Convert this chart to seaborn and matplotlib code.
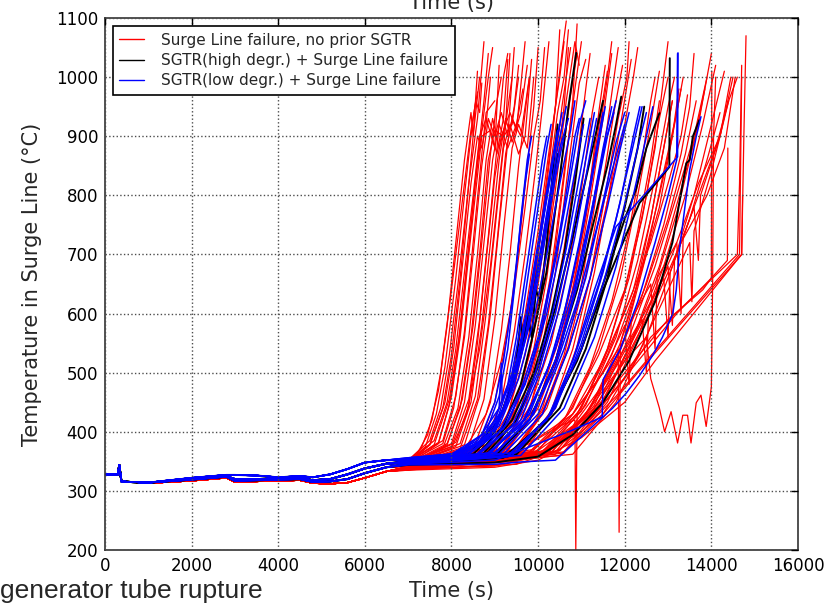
import matplotlib
matplotlib.use("Agg")
import matplotlib.pyplot as plt
from matplotlib.lines import Line2D
import pandas as pd
import seaborn as sns

# shared early transient (time s, temperature degC), four bands of the bundle
early_time = [0, 300, 330, 380, 600, 1000, 2000, 2800, 3000, 3500, 4000, 4500, 4800, 5200, 5600, 6000, 6500]
early_p1 = [328, 328, 344, 316, 315, 314, 322, 327, 327, 326, 323, 325, 323, 328, 337, 348, 352]
early_p2 = [328, 328, 344, 316, 315, 314, 320, 325, 320, 320, 321, 322, 318, 320, 328, 338, 346]
early_p3 = [328, 328, 344, 316, 315, 314, 319, 324, 317, 318, 319, 320, 315, 316, 320, 330, 340]
early_p4 = [328, 328, 344, 316, 315, 313, 317, 322, 315, 316, 317, 318, 313, 312, 314, 322, 333]

# late heat-up of each run (time s, temperature degC)
red_runs = [
    [(7000, 350), (7300, 372), (7550, 420), (7750, 500), (8000, 640), (8250, 790), (8450, 910), (8600, 975)],
    [(7000, 348), (7400, 375), (7650, 430), (7850, 510), (8100, 660), (8300, 800), (8480, 920), (8560, 960), (8650, 940), (8700, 990)],
    [(7000, 352), (7500, 385), (7750, 440), (7950, 530), (8150, 650), (8400, 820), (8600, 930), (8750, 1060)],
    [(7000, 346), (7500, 378), (7850, 450), (8050, 540), (8250, 680), (8450, 820), (8600, 900), (8700, 880), (8800, 920), (8900, 1000)],
    [(7000, 350), (7600, 385), (7900, 450), (8100, 540), (8300, 670), (8500, 800), (8650, 900), (8800, 930), (9000, 880), (9100, 1020)],
    [(7000, 344), (7700, 380), (8000, 460), (8200, 560), (8400, 700), (8550, 800), (8700, 900), (8900, 910), (9050, 870), (9200, 930), (9300, 1030)],
    [(7000, 348), (7800, 380), (8050, 440), (8300, 560), (8500, 700), (8700, 850), (8850, 930), (9000, 900), (9150, 940), (9300, 900), (9450, 1050)],
    [(7000, 342), (7800, 372), (8150, 440), (8400, 560), (8600, 700), (8800, 860), (8950, 930), (9100, 880), (9250, 920), (9350, 1040)],
    [(7000, 346), (7900, 380), (8200, 440), (8450, 560), (8650, 700), (8850, 860), (9000, 910), (9200, 900), (9400, 920), (9550, 1000)],
    [(7000, 345), (8000, 380), (8300, 450), (8550, 580), (8750, 720), (8950, 860), (9100, 920), (9300, 880), (9500, 920), (9650, 980)],
    [(7000, 350), (8000, 375), (8400, 455), (8650, 590), (8850, 730), (9050, 880), (9200, 1000), (9300, 1040)],
    [(7000, 343), (8100, 375), (8450, 450), (8700, 580), (8900, 720), (9100, 860), (9250, 930), (9400, 890), (9600, 940), (9750, 1020)],
    [(7000, 347), (8200, 380), (8550, 460), (8800, 600), (9000, 740), (9200, 880), (9350, 920), (9550, 870), (9700, 900), (9850, 1030)],
    [(7000, 344), (8300, 378), (8650, 460), (8900, 600), (9100, 750), (9300, 890), (9450, 950), (9550, 1020)],
    [(7000, 340), (8400, 375), (8750, 455), (9000, 590), (9200, 740), (9400, 880), (9550, 920), (9750, 880), (9900, 1000)],
    [(7000, 352), (7200, 362), (7450, 395), (7700, 470), (7900, 580), (8100, 720), (8300, 860), (8450, 940), (8500, 900), (8600, 1010)],
    [(7000, 349), (7700, 382), (7950, 445), (8150, 545), (8350, 680), (8550, 820), (8700, 910), (8850, 1000), (8950, 1050)],
    [(7000, 345), (8100, 382), (8400, 445), (8600, 550), (8800, 690), (9000, 830), (9150, 900), (9350, 940), (9500, 910), (9700, 1060)],
    [(7000, 347), (7600, 378), (7950, 455), (8200, 570), (8400, 710), (8600, 860), (8750, 960), (8850, 1040)],
    [(7000, 345), (7900, 378), (8250, 455), (8500, 580), (8700, 720), (8900, 870), (9050, 960), (9150, 1000)],
    [(7000, 343), (8200, 372), (8600, 455), (8850, 580), (9050, 720), (9250, 870), (9400, 930), (9600, 900), (9800, 1000)],
    [(7000, 341), (8500, 370), (8900, 450), (9150, 570), (9350, 700), (9550, 850), (9700, 940), (9800, 1000)],
    [(7000, 344), (8600, 372), (9000, 450), (9300, 570), (9550, 710), (9750, 850), (9900, 950), (10000, 1050)],
    [(7000, 342), (8700, 370), (9150, 450), (9450, 570), (9700, 700), (9950, 850), (10100, 950), (10250, 1060)],
    [(7000, 339), (8900, 366), (9350, 440), (9700, 560), (10000, 700), (10250, 850), (10400, 950), (10500, 1080)],
    [(7000, 346), (8000, 372), (8350, 430), (8650, 540), (8900, 680), (9100, 820), (9250, 920), (9400, 1000)],
    [(7000, 348), (7500, 378), (7800, 440), (8000, 530), (8200, 660), (8350, 780), (8500, 900), (8650, 1000)],
    [(7000, 350), (7800, 385), (8100, 460), (8300, 570), (8500, 720), (8700, 870), (8800, 940), (9000, 960)],
    [(7000, 345), (8500, 370), (9000, 420), (9400, 500), (9700, 600), (10000, 740), (10300, 900), (10500, 1000), (10600, 1060)],
    [(7000, 342), (8600, 368), (9100, 420), (9500, 510), (9800, 620), (10100, 770), (10350, 920), (10550, 1040), (10650, 1095)],
    [(7000, 348), (8700, 375), (9200, 430), (9600, 530), (9900, 650), (10200, 800), (10450, 940), (10600, 1000), (10700, 1080)],
    [(7000, 344), (8800, 372), (9300, 430), (9700, 530), (10000, 650), (10300, 800), (10550, 950), (10750, 1050)],
    [(7000, 340), (8800, 365), (9400, 430), (9800, 530), (10100, 650), (10400, 810), (10650, 960), (10850, 1060), (10950, 1020)],
    [(7000, 346), (8900, 372), (9500, 440), (9900, 540), (10200, 660), (10500, 830), (10750, 970), (10900, 1040)],
    [(7000, 343), (9000, 372), (9600, 440), (10000, 545), (10300, 670), (10600, 840), (10850, 980), (11000, 1060)],
    [(7000, 341), (9100, 368), (9700, 440), (10100, 545), (10400, 670), (10700, 850), (10950, 990), (11100, 1030)],
    [(7000, 347), (8300, 370), (8800, 430), (9150, 520), (9450, 640), (9700, 780), (9900, 900), (10050, 960), (10150, 1050)],
    [(7000, 341), (9000, 365), (9500, 440), (9850, 550), (10150, 690), (10400, 830), (10600, 950), (10700, 1050)],
    [(7000, 343), (9200, 370), (9700, 450), (10100, 570), (10400, 710), (10650, 860), (10800, 960), (10900, 1090)],
    [(7000, 340), (9300, 366), (9850, 450), (10250, 570), (10600, 710), (10900, 860), (11100, 980), (11200, 1040)],
    [(7000, 338), (9500, 364), (10100, 440), (10550, 550), (10900, 680), (11200, 820), (11400, 940), (11550, 1020)],
    [(7000, 342), (9200, 366), (9900, 430), (10400, 520), (10800, 640), (11100, 760), (11400, 900), (11600, 1000), (11700, 1060)],
    [(7000, 345), (9300, 370), (10000, 440), (10500, 540), (10900, 660), (11200, 790), (11500, 930), (11700, 1040)],
    [(7000, 340), (9400, 365), (10100, 430), (10600, 530), (11000, 650), (11300, 780), (11600, 920), (11850, 1050)],
    [(7000, 344), (9500, 368), (10200, 440), (10700, 545), (11100, 665), (11450, 800), (11750, 940), (11950, 1020)],
    [(7000, 339), (9600, 366), (10300, 435), (10800, 540), (11200, 660), (11550, 800), (11850, 930), (12050, 1000), (12100, 1060)],
    [(7000, 343), (9700, 368), (10400, 440), (10900, 545), (11300, 670), (11650, 810), (11950, 940), (12150, 1030)],
    [(7000, 340), (9000, 360), (9800, 380), (10500, 410), (10850, 420), (10870, 200), (10900, 430), (11200, 470), (11600, 540), (12000, 640), (12300, 740), (12600, 860), (12800, 960)],
    [(7000, 342), (9200, 362), (10000, 390), (10800, 430), (11500, 500), (11850, 540), (11870, 230), (11900, 550), (12200, 620), (12600, 760), (12900, 880), (13100, 960)],
    [(7000, 338), (9800, 362), (10600, 420), (11200, 510), (11700, 620), (12100, 740), (12400, 860), (12600, 960), (12700, 1000)],
    [(7000, 341), (10000, 368), (10800, 440), (11400, 540), (11900, 660), (12300, 800), (12600, 920), (12800, 1010)],
    [(7000, 337), (10100, 366), (11000, 440), (11600, 540), (12100, 660), (12500, 800), (12800, 930), (13000, 1000)],
    [(7000, 340), (10200, 368), (11100, 445), (11800, 560), (12300, 690), (12700, 830), (13000, 950), (13150, 1000)],
    [(7000, 336), (10300, 364), (11200, 440), (11900, 550), (12400, 680), (12800, 800), (13100, 900), (13300, 980)],
    [(7000, 339), (10400, 366), (11300, 445), (12000, 560), (12500, 700), (12900, 840), (13200, 940), (13350, 1000)],
    [(7000, 335), (9000, 340), (10000, 352), (11000, 390), (12000, 450), (12700, 520), (14700, 700), (14750, 900), (14800, 1070)],
    [(7000, 337), (9000, 342), (10000, 358), (11000, 400), (11800, 460), (12500, 520), (14650, 700), (14700, 1000)],
    [(7000, 336), (9200, 345), (10200, 365), (11200, 420), (12000, 490), (12600, 560), (14600, 700), (14650, 820), (14700, 1020)],
    [(7000, 336), (9500, 345), (10500, 370), (11500, 430), (12300, 500), (14700, 700), (14720, 800)],
    [(7000, 338), (9500, 350), (10500, 380), (11300, 440), (12000, 520), (12500, 560), (12600, 490), (12800, 440), (12920, 400), (13070, 434), (13220, 381), (13340, 428), (13450, 428), (13530, 381), (13650, 449), (13760, 462), (13880, 409), (14000, 476), (14030, 657), (14050, 900), (14100, 1000)],
    [(7000, 338), (10000, 360), (11000, 410), (12000, 500), (13000, 590), (13800, 640), (14000, 660), (14010, 1010)],
    [(7000, 336), (10000, 356), (11200, 420), (12200, 510), (13200, 600), (14000, 660), (14370, 690), (14380, 880)],
    [(7000, 340), (10500, 368), (11400, 450), (12100, 560), (12700, 680), (13200, 800), (13600, 900), (13900, 1000)],
    [(7000, 338), (10600, 366), (11500, 450), (12200, 560), (12800, 680), (13300, 810), (13700, 920), (14000, 1040)],
    [(7000, 336), (10000, 362), (11000, 420), (11800, 500), (12500, 600), (13100, 700), (13700, 820), (14200, 900), (14500, 1000)],
    [(7000, 339), (10200, 368), (11200, 430), (12000, 520), (12700, 620), (13300, 720), (13900, 800), (14300, 880), (14550, 1000)],
    [(7000, 341), (9900, 370), (10800, 430), (11500, 520), (12100, 620), (12600, 720), (13000, 820), (13300, 900), (13450, 970)],
    [(7000, 337), (9700, 360), (10700, 420), (11500, 500), (12000, 580), (12100, 480), (12150, 590), (12600, 650), (12700, 540), (12750, 660), (13200, 720), (13300, 600), (13350, 730), (13700, 800), (14100, 880), (14400, 960)],
    [(7000, 338), (10200, 362), (11100, 430), (11800, 520), (12400, 630), (12900, 750), (13300, 870), (13500, 950), (13600, 1040)],
    [(7000, 336), (10400, 362), (11400, 440), (12100, 540), (12700, 650), (13200, 770), (13600, 890), (13850, 980)],
    [(7000, 337), (10600, 364), (11600, 450), (12300, 560), (12900, 680), (13400, 800), (13800, 920), (14100, 1020)],
    [(7000, 335), (10800, 362), (11800, 450), (12500, 560), (13100, 680), (13600, 800), (14000, 920), (14300, 1010)],
    [(7000, 336), (10500, 360), (11500, 430), (12300, 530), (13000, 640), (13500, 720), (13550, 620), (13600, 740), (14000, 840), (14400, 960), (14600, 1000)],
    [(7000, 338), (9800, 358), (10800, 410), (11600, 490), (12300, 580), (12900, 660), (13000, 560), (13050, 670), (13500, 760), (13900, 860), (14200, 940)],
    [(7000, 337), (10000, 358), (11000, 420), (11800, 510), (12400, 590), (12500, 500), (12550, 600), (13000, 680), (13100, 580), (13150, 690), (13600, 780), (13700, 690), (13750, 800), (14200, 900), (14450, 1000)],
    [(7000, 339), (10300, 365), (11200, 440), (11900, 540), (12500, 650), (13000, 760), (13400, 870), (13650, 960)],
    [(7000, 341), (9800, 366), (10700, 430), (11400, 530), (12000, 640), (12400, 760), (12700, 880), (12900, 1000), (13000, 1060)],
    [(7000, 339), (9900, 364), (10900, 430), (11600, 530), (12200, 640), (12600, 760), (12900, 880), (13100, 960)],
    [(7000, 340), (10100, 364), (11000, 435), (11700, 530), (12300, 650), (12800, 780), (13100, 900), (13250, 980)],
    [(7000, 344), (9300, 372), (10000, 450), (10500, 560), (10900, 690), (11200, 820), (11450, 940), (11600, 1010)],
    [(7000, 342), (9100, 370), (9800, 440), (10300, 550), (10700, 680), (11000, 810), (11250, 940), (11400, 1000)],
    [(7000, 340), (9400, 365), (10100, 435), (10700, 540), (11200, 660), (11600, 790), (12000, 920), (12200, 1000), (12300, 1050)],
]

black_runs = [
    [(7000, 350), (8500, 362), (9000, 400), (9300, 460), (9500, 520), (9600, 594), (9650, 543), (9750, 600), (9850, 560), (9950, 640), (10050, 620), (10200, 720), (10350, 850), (10450, 920)],
    [(7000, 352), (8600, 362), (9200, 410), (9600, 480), (9900, 570), (10190, 669), (10500, 830), (10700, 950), (10880, 1041)],
    [(7000, 350), (8800, 362), (9500, 420), (10000, 510), (10400, 610), (10800, 730), (11200, 860), (11500, 960)],
    [(7000, 346), (9000, 358), (9800, 420), (10400, 520), (10900, 640), (11300, 760), (11600, 850), (11800, 920), (11920, 967)],
    [(7000, 345), (9200, 356), (10200, 420), (10900, 520), (11500, 640), (12340, 787), (13030, 848), (13040, 1032)],
    [(7000, 348), (9300, 358), (10300, 430), (11000, 540), (11500, 650), (12000, 760), (12260, 810), (12500, 880), (12800, 939)],
    [(7000, 344), (9000, 348), (10000, 358), (10800, 395), (11500, 450), (12100, 520), (12700, 620), (13100, 720), (13420, 854), (13500, 860), (13570, 899), (13720, 927)],
    [(7000, 349), (8700, 360), (9400, 420), (9900, 500), (10300, 600), (10600, 700), (10850, 820), (11050, 930)],
    [(7000, 347), (9500, 362), (10500, 440), (11100, 540), (11600, 660), (12000, 780), (12300, 880), (12450, 950)],
    [(7000, 351), (8400, 362), (9100, 420), (9500, 500), (9800, 600), (10050, 700), (10300, 800), (10450, 870)],
]

blue_runs = [
    [(7000, 356), (8000, 362), (8600, 380), (9000, 420), (9300, 480), (9500, 560), (9700, 660), (9900, 760), (10100, 860), (10200, 900)],
    [(7000, 354), (8000, 360), (8700, 385), (9100, 430), (9400, 500), (9600, 580), (9800, 680), (10000, 780), (10200, 880), (10300, 920)],
    [(7000, 355), (8100, 362), (8800, 390), (9200, 440), (9500, 520), (9750, 610), (10000, 720), (10250, 830), (10450, 910)],
    [(7000, 352), (8200, 360), (8900, 392), (9300, 450), (9600, 540), (9850, 640), (10100, 750), (10350, 860), (10550, 940)],
    [(7000, 356), (8200, 364), (9000, 400), (9400, 470), (9700, 560), (9950, 660), (10200, 770), (10450, 880), (10650, 950)],
    [(7000, 354), (8000, 362), (8600, 385), (9100, 440), (9150, 516), (9170, 454), (9500, 500), (9800, 580), (10100, 700), (10400, 830), (10600, 900)],
    [(7000, 350), (8300, 360), (9100, 400), (9600, 470), (10000, 560), (10300, 660), (10600, 780), (10850, 900), (10950, 930)],
    [(7000, 352), (8400, 362), (9200, 405), (9700, 480), (10100, 580), (10400, 690), (10700, 810), (10950, 920), (11100, 960)],
    [(7000, 348), (8500, 358), (9400, 410), (9900, 490), (10300, 590), (10650, 710), (10950, 830), (11200, 930)],
    [(7000, 350), (8600, 360), (9500, 415), (10000, 500), (10400, 600), (10750, 720), (11050, 840), (11300, 940)],
    [(7000, 347), (8700, 356), (9600, 410), (10200, 500), (10600, 600), (10950, 720), (11250, 840), (11500, 940)],
    [(7000, 349), (8800, 360), (9700, 420), (10300, 520), (10700, 630), (11050, 750), (11350, 870), (11550, 950)],
    [(7000, 346), (8900, 357), (9800, 420), (10400, 520), (10850, 640), (11200, 760), (11500, 880), (11700, 950)],
    [(7000, 350), (9000, 362), (9900, 430), (10500, 540), (10950, 660), (11300, 790), (11600, 900), (11800, 960)],
    [(7000, 345), (9000, 352), (10000, 380), (10800, 403), (11480, 425), (11500, 488), (11900, 540), (12300, 620), (12700, 720), (13000, 800), (13200, 860), (13220, 1040)],
    [(7000, 344), (9000, 345), (9600, 349), (10400, 352), (10900, 385), (11300, 412), (11720, 440), (12030, 465), (12340, 495), (12650, 530), (12870, 560), (13110, 600), (13190, 640), (13260, 707), (13500, 843), (13650, 899), (13760, 933)],
    [(7000, 352), (9000, 365), (9800, 420), (10400, 510), (10900, 620), (11300, 730), (11700, 840), (12000, 920)],
    [(7000, 348), (9200, 362), (10100, 430), (10700, 540), (11200, 660), (11600, 780), (11900, 880), (12100, 940)],
    [(7000, 346), (9400, 360), (10300, 430), (10900, 540), (11400, 650), (11800, 760), (12150, 870), (12400, 950)],
    [(7000, 350), (9500, 365), (10400, 440), (11000, 550), (11500, 670), (11900, 790), (12200, 900), (12350, 950)],
    [(7000, 347), (9300, 360), (10200, 420), (10800, 520), (11300, 640), (11800, 747), (13220, 865), (13230, 1041)],
    [(7000, 345), (9600, 360), (10600, 440), (11300, 560), (11800, 680), (12200, 800), (12500, 900), (12650, 950)],
    [(7000, 353), (8100, 362), (8800, 400), (9100, 460), (9300, 540), (9450, 640), (9600, 760), (9750, 860), (9850, 900)],
    [(7000, 355), (8200, 362), (8900, 395), (9300, 455), (9550, 530), (9800, 620), (10050, 730), (10300, 840), (10500, 920)],
    [(7000, 353), (8300, 362), (9000, 405), (9450, 480), (9750, 570), (10000, 670), (10250, 780), (10500, 880), (10700, 930)],
    [(7000, 351), (8400, 362), (9100, 410), (9550, 490), (9900, 590), (10200, 700), (10500, 820), (10750, 910), (10850, 960)],
    [(7000, 349), (8600, 360), (9300, 415), (9800, 500), (10200, 600), (10550, 720), (10850, 840), (11050, 920)],
    [(7000, 347), (8800, 358), (9600, 420), (10100, 510), (10500, 610), (10850, 730), (11150, 850), (11350, 930)],
    [(7000, 352), (8900, 364), (9800, 430), (10400, 540), (10850, 650), (11250, 780), (11550, 890), (11750, 940)],
    [(7000, 348), (9100, 362), (10000, 430), (10600, 540), (11100, 660), (11500, 790), (11800, 890), (12000, 940)],
    [(7000, 346), (9300, 358), (10300, 430), (11000, 540), (11500, 650), (11950, 770), (12300, 880), (12500, 940)],
    [(7000, 354), (8000, 362), (8700, 395), (9000, 450), (9200, 520), (9400, 620), (9550, 720), (9700, 820), (9800, 870)],
]

labels = {
    "red": "Surge Line failure, no prior SGTR",
    "black": "SGTR(high degr.) + Surge Line failure",
    "blue": "SGTR(low degr.) + Surge Line failure",
}


def early_profile(t7000):
    # pick the band of the early bundle that leads into this run
    if t7000 >= 352:
        return early_p1
    if t7000 >= 347:
        return early_p2
    if t7000 >= 342:
        return early_p3
    return early_p4


rows = []
for group, runs in [("red", red_runs), ("black", black_runs), ("blue", blue_runs)]:
    for i, run in enumerate(runs):
        prof = early_profile(run[0][1])
        times = early_time + [p[0] for p in run]
        temps = prof + [p[1] for p in run]
        for t, T in zip(times, temps):
            rows.append({"run": f"{group}_{i}", "group": group, "time": t, "temp": T})
df = pd.DataFrame(rows)

sns.set_style("white")
plt.rcParams["font.family"] = ["DejaVu Sans"]

fig = plt.figure(figsize=(8.37, 6.04), dpi=100)
ax = fig.add_axes([0.1254, 0.0894, 0.828, 0.8808])

sns.lineplot(data=df, x="time", y="temp", hue="group", size="group", units="run",
             estimator=None, sort=False, legend=False, ax=ax,
             hue_order=["red", "black", "blue"],
             palette={"red": "#ff0000", "black": "#000000", "blue": "#0000ff"},
             sizes={"red": 0.9, "black": 1.4, "blue": 1.1})

ax.set_xlim(0, 16000)
ax.set_ylim(200, 1100)
ax.set_xticks(range(0, 16001, 2000))
ax.set_yticks(range(200, 1101, 100))
ax.tick_params(direction="in", top=True, right=True, length=5, width=1,
               labelsize=12, pad=5, colors="black")
ax.grid(True, color="0.3", linestyle=":", linewidth=1.0)
ax.set_axisbelow(False)
for sp in ax.spines.values():
    sp.set_color("#333333")
    sp.set_linewidth(1.2)

ax.set_xlabel("Time (s)", fontsize=15, labelpad=4)
ax.set_ylabel("Temperature in Surge Line (°C)", fontsize=15, labelpad=10)

handles = [Line2D([], [], color=c, lw=1) for c in ["#ff0000", "#000000", "#0000ff"]]
leg = ax.legend(handles, [labels["red"], labels["black"], labels["blue"]],
                loc="upper left", fontsize=11, fancybox=False, framealpha=1,
                edgecolor="black", handlelength=1.6, handletextpad=1.1,
                labelspacing=0.35, borderpad=0.45)
leg.get_frame().set_linewidth(1.2)

# cut-off text from the surrounding page
fig.text(0.54, 1 - 9 / 604, "Time (s)", fontsize=15, ha="center", va="baseline")
fig.text(0.0, 0.01, "generator tube rupture", fontsize=19,
         family=["Liberation Sans", "DejaVu Sans"], ha="left", va="baseline")

fig.savefig("out.png", dpi=100)
